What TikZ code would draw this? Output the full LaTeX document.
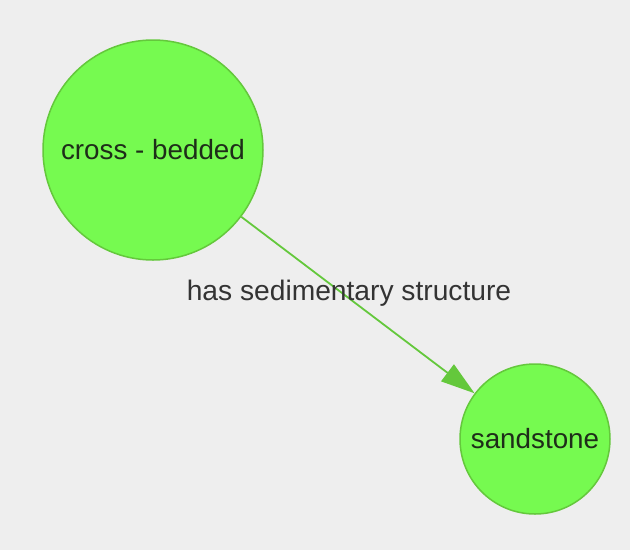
\documentclass[tikz,border=0pt]{standalone}
\usepackage{fontspec}
\setmainfont{Liberation Sans}
\usepackage{tikz}
\usetikzlibrary{arrows.meta, positioning, shapes}

\definecolor{bgcol}{RGB}{238,238,238}
\definecolor{nodefill}{RGB}{118,250,80}
\definecolor{nodeline}{RGB}{100,200,60}
\definecolor{edgecol}{RGB}{100,200,60}
\definecolor{labelcol}{RGB}{51,51,51}
\definecolor{rocktext}{RGB}{30,45,25}

\tikzset{
  rock/.style={draw=nodeline, fill=nodefill, circle, line width=1.5pt, inner sep=0pt,
               text=rocktext, font=\fontsize{27.8}{33}\selectfont},
  relation/.style={color=edgecol, line width=1.8pt, -{Triangle[length=34pt, width=21pt]}},
}

\begin{document}
\begin{tikzpicture}[x=1pt, y=-1pt]

\fill [bgcol] (0,0) rectangle (630,550);
\useasboundingbox (0,0) rectangle (630,550);

\node [rock, minimum size=220pt] (crossbedded) at (153,150) {cross - bedded};
\node [rock, minimum size=150pt] (sandstone)   at (535,439) {sandstone};

\path [draw, relation] (crossbedded) edge (sandstone);

\node [text=labelcol, font=\fontsize{28.2}{33}\selectfont] (hasstructure) at (349,293) {has sedimentary structure};

\end{tikzpicture}
\end{document}
